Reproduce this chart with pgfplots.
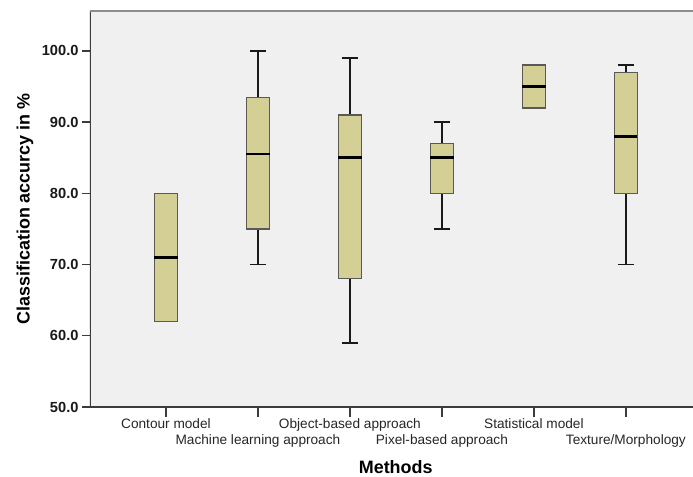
\documentclass[border=0pt]{standalone}
\usepackage{fontspec}
\setmainfont{Liberation Sans}
\usepackage{pgfplots}
\usepackage{pgfplotstable}
\pgfplotsset{compat=1.18}

\definecolor{bgc}{RGB}{240,240,240}
\definecolor{boxc}{RGB}{212,207,148}
\definecolor{axc}{RGB}{60,60,60}
\definecolor{topc}{RGB}{140,140,140}

% pos: category, lw/uw: whisker ends, q1/q3: quartiles, med: median
\pgfplotstableread{
pos lw q1 med q3 uw
1 62 62 71 80 80
2 70 75 85.5 93.5 100
3 59 68 85 91 99
4 75 80 85 87 90
5 92 92 95 98 98
6 70 80 88 97 98
}\stats

\begin{document}
\begin{tikzpicture}
\begin{axis}[
  scale only axis, width=603bp, height=396bp,
  xmin=0.174, xmax=6.73, ymin=50, ymax=105.6,
  axis background/.style={fill=bgc},
  axis line style={draw=none},
  tick pos=left, tick align=outside,
  major tick length=8bp,
  tick style={axc, line width=1.3bp},
  ytick={50,60,...,100},
  yticklabel={\pgfmathprintnumber[fixed,fixed zerofill,precision=1,assume math mode=true]{\tick}},
  yticklabel style={font=\bfseries\fontsize{14.7}{15}\selectfont, black!90},
  xtick={1,3,5},
  xticklabels={Contour model, Object-based approach, Statistical model},
  xticklabel style={font=\fontsize{13.7}{14}\selectfont, black!85},
  major x tick style={/pgfplots/major tick length=10bp},
  extra x ticks={2,4,6},
  extra x tick labels={Machine learning approach, Pixel-based approach, Texture/Morphology},
  extra x tick style={major tick length=24bp},
  xlabel={Methods},
  xlabel style={font=\bfseries\fontsize{18}{18}\selectfont, at={(axis description cs:0.507,0)}, anchor=center, yshift=-60bp},
  ylabel={Classification accurcy in \%},
  ylabel style={font=\bfseries\fontsize{18}{18}\selectfont, at={(axis description cs:-0.1078,0.5)}, anchor=center},
  boxst/.style={fill=boxc, draw=black!65, line width=1.3bp},
]
% whiskers with caps
\addplot[draw=none, mark=none,
  error bars/.cd, y dir=both, y explicit,
  error bar style={draw=black!90, line width=1.4bp},
  error mark options={rotate=90, draw=black!90, line width=1.4bp, mark size=8bp}]
  table[x=pos, y=med, y error plus expr=\thisrow{uw}-\thisrow{med}, y error minus expr=\thisrow{med}-\thisrow{lw}] {\stats};

% boxes (q1 to q3)
\addplot[boxst] coordinates {(0.8735,62) (1.1265,62) (1.1265,80) (0.8735,80)} -- cycle;
\addplot[boxst] coordinates {(1.8735,75) (2.1265,75) (2.1265,93.5) (1.8735,93.5)} -- cycle;
\addplot[boxst] coordinates {(2.8735,68) (3.1265,68) (3.1265,91) (2.8735,91)} -- cycle;
\addplot[boxst] coordinates {(3.8735,80) (4.1265,80) (4.1265,87) (3.8735,87)} -- cycle;
\addplot[boxst] coordinates {(4.8735,92) (5.1265,92) (5.1265,98) (4.8735,98)} -- cycle;
\addplot[boxst] coordinates {(5.8735,80) (6.1265,80) (6.1265,97) (5.8735,97)} -- cycle;

% medians
\addplot[draw=none, mark=none,
  error bars/.cd, x dir=both, x fixed=0.1265, error mark=none,
  error bar style={draw=black, line width=2.6bp}]
  table[x=pos, y=med] {\stats};

% frame: dark left/bottom, grey top
\draw[axc, line width=1.3bp] (rel axis cs:0,1) -- (rel axis cs:0,0) -- (rel axis cs:1,0);
\draw[topc, line width=1.6bp] (rel axis cs:0,1) -- (rel axis cs:1,1);
\end{axis}
\pgfresetboundingbox
\useasboundingbox (current axis.south west) ++(-90bp,-70bp) rectangle ++(693bp,477bp);
\end{tikzpicture}
\end{document}
